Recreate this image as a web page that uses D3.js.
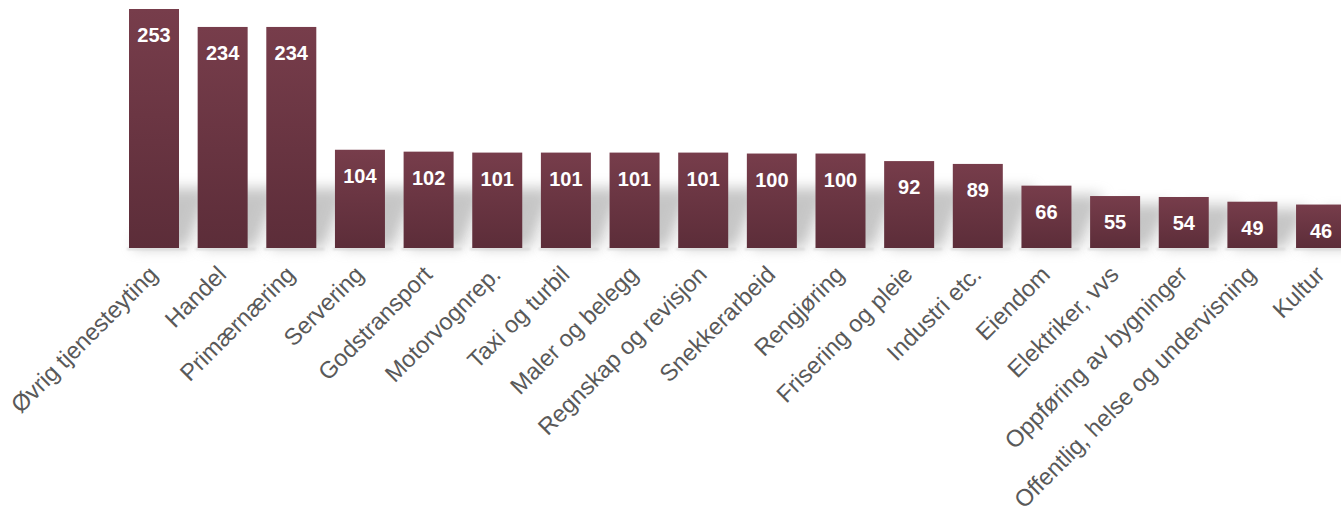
<!DOCTYPE html>
<html>
<head>
<meta charset="utf-8">
<script src="https://cdn.jsdelivr.net/npm/d3@7"></script>
<style>
  html, body { margin: 0; padding: 0; background: #ffffff; overflow: hidden; }
  svg { display: block; }
</style>
</head>
<body>
<svg id="chart" width="1341" height="514"></svg>
<script>
// Number of businesses per industry
const categories = [
  "Øvrig tjenesteyting", "Handel", "Primærnæring", "Servering", "Godstransport",
  "Motorvognrep.", "Taxi og turbil", "Maler og belegg", "Regnskap og revisjon",
  "Snekkerarbeid", "Rengjøring", "Frisering og pleie", "Industri etc.", "Eiendom",
  "Elektriker, vvs", "Oppføring av bygninger", "Offentlig, helse og undervisning", "Kultur"
];
const values = [253, 234, 234, 104, 102, 101, 101, 101, 101, 100, 100, 92, 89, 66, 55, 54, 49, 46];

const data = categories.map((c, i) => ({ category: c, value: values[i] }));

const svg = d3.select("#chart");
const baseY = 248;

const step = 68.65, bw = 50;
const pInner = (step - bw) / step;
const x = d3.scaleBand()
  .domain(categories)
  .range([129, 129 + categories.length * step - (step - bw)])
  .paddingInner(pInner)
  .paddingOuter(0);

const y = d3.scaleLinear().domain([0, 253]).range([baseY, 9]);

const defs = svg.append("defs");
const grad = defs.append("linearGradient")
  .attr("id", "barFill").attr("x1", 0).attr("y1", 0).attr("x2", 0).attr("y2", 1);
grad.append("stop").attr("offset", "0%").attr("stop-color", "#773d4b");
grad.append("stop").attr("offset", "100%").attr("stop-color", "#5c2d39");

const blur = defs.append("filter").attr("id", "soft")
  .attr("x", "-50%").attr("y", "-50%").attr("width", "200%").attr("height", "200%");
blur.append("feGaussianBlur").attr("stdDeviation", 7);

const floorBlur = defs.append("filter").attr("id", "floor")
  .attr("x", "-10%").attr("y", "-200%").attr("width", "120%").attr("height", "500%");
floorBlur.append("feGaussianBlur").attr("stdDeviation", 1.2);

// Cast shadows behind each bar
svg.append("g").selectAll("path")
  .data(data)
  .join("path")
  .attr("d", d => {
    const x0 = x(d.category), x1 = x0 + x.bandwidth();
    const h = Math.min((baseY - y(d.value)) * 0.85, 60);
    const sk = 24;
    return `M${x0 + 4},${baseY} L${x1 + 8},${baseY} L${x1 + 8 + sk},${baseY - h} L${x0 + 4 + sk},${baseY - h} Z`;
  })
  .attr("fill", "#8c8c8c")
  .attr("opacity", 0.5)
  .attr("filter", "url(#soft)");

// Faint floor line under the bars
svg.append("g").selectAll("rect")
  .data(data)
  .join("rect")
  .attr("x", d => x(d.category) - 2)
  .attr("y", baseY)
  .attr("width", x.bandwidth() + 10)
  .attr("height", 2)
  .attr("fill", "#d8d8d8")
  .attr("filter", "url(#floor)");

// Bars
svg.append("g").selectAll("rect")
  .data(data)
  .join("rect")
  .attr("x", d => x(d.category))
  .attr("y", d => y(d.value))
  .attr("width", x.bandwidth())
  .attr("height", d => baseY - y(d.value))
  .attr("fill", "url(#barFill)");

// Value labels inside the bar tops
svg.append("g").selectAll("text")
  .data(data)
  .join("text")
  .attr("x", d => x(d.category) + x.bandwidth() / 2)
  .attr("y", d => y(d.value) + 33)
  .attr("text-anchor", "middle")
  .attr("font-family", "Liberation Sans, Arial, sans-serif")
  .attr("font-weight", "bold")
  .attr("font-size", 20)
  .attr("fill", "#ffffff")
  .text(d => d.value);

// Rotated category labels
svg.append("g").selectAll("text")
  .data(data)
  .join("text")
  .attr("transform", d => `translate(${x(d.category) + x.bandwidth() / 2 + 5},${276}) rotate(-45)`)
  .attr("text-anchor", "end")
  .attr("font-family", "Liberation Sans, Arial, sans-serif")
  .attr("font-size", 23.6)
  .attr("fill", "#595959")
  .text(d => d.category);
</script>
</body>
</html>
